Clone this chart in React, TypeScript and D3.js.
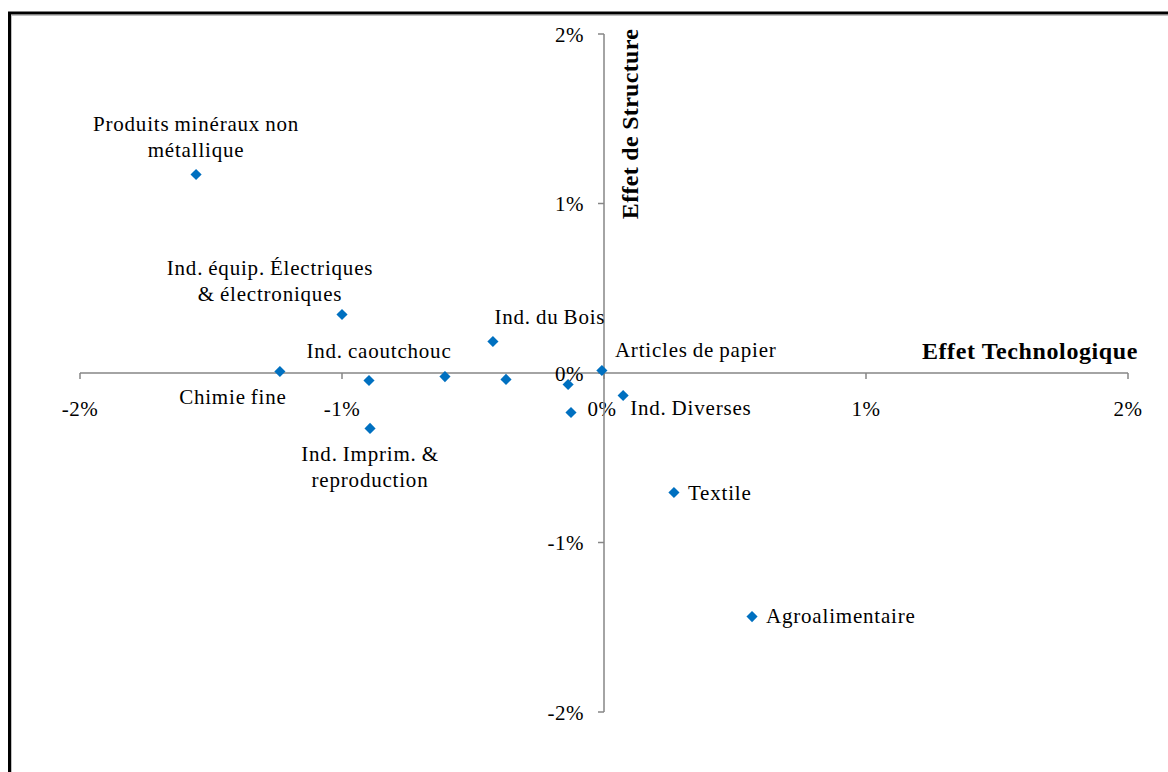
import React from "react";
import * as d3 from "d3";

// Data (values in %)
const sectors = [
  "Produits minéraux non métallique",
  "Ind. équip. Électriques & électroniques",
  "Chimie fine",
  "Ind. caoutchouc",
  "Secteur 5",
  "Ind. du Bois",
  "Secteur 7",
  "Ind. Imprim. & reproduction",
  "Secteur 9",
  "Secteur 10",
  "Articles de papier",
  "Ind. Diverses",
  "Textile",
  "Agroalimentaire",
];
const effetTechnologique = [
  -1.557, -1.0, -1.237, -0.897, -0.607, -0.424, -0.374, -0.893, -0.137, -0.126,
  -0.008, 0.073, 0.267, 0.565,
];
const effetStructure = [
  1.171, 0.345, 0.009, -0.044, -0.021, 0.186, -0.038, -0.327, -0.068, -0.233,
  0.015, -0.133, -0.705, -1.437,
];
const labelLines: string[][] = [
  ["Produits minéraux non", "métallique"],
  ["Ind. équip. Électriques", "& électroniques"],
  ["Chimie fine"],
  ["Ind. caoutchouc"],
  [],
  ["Ind. du Bois"],
  [],
  ["Ind. Imprim. &", "reproduction"],
  [],
  [],
  ["Articles de papier"],
  ["Ind. Diverses"],
  ["Textile"],
  ["Agroalimentaire"],
];
const xTicks = [-2, -1, 0, 1, 2];
const yTicks = [-2, -1, 0, 1, 2];

// Label placement (layout only)
const labelLayout: { dx: number; dy: number; anchor: string }[] = [
  { dx: 0, dy: -44, anchor: "middle" },
  { dx: -72, dy: -40, anchor: "middle" },
  { dx: -47, dy: 33, anchor: "middle" },
  { dx: 10, dy: -22, anchor: "middle" },
  { dx: 0, dy: 0, anchor: "middle" },
  { dx: 57, dy: -17, anchor: "middle" },
  { dx: 0, dy: 0, anchor: "middle" },
  { dx: 0, dy: 33, anchor: "middle" },
  { dx: 0, dy: 0, anchor: "middle" },
  { dx: 0, dy: 0, anchor: "middle" },
  { dx: 13, dy: -13, anchor: "start" },
  { dx: 7, dy: 19, anchor: "start" },
  { dx: 14, dy: 8, anchor: "start" },
  { dx: 14, dy: 6, anchor: "start" },
];

const W = 1168;
const H = 772;
const FONT = "Liberation Serif";
const AXIS = "#868686";
const BLUE = "#0070C0";

const txt: React.CSSProperties = { fontFamily: FONT, fontSize: 21, letterSpacing: 0.8, wordSpacing: -1 };
const tick: React.CSSProperties = { fontFamily: FONT, fontSize: 21, letterSpacing: 0.5 };
const title: React.CSSProperties = { fontFamily: FONT, fontSize: 24, fontWeight: "bold", letterSpacing: 0.6 };

export default function App() {
  const x = d3.scaleLinear().domain([-2, 2]).range([80, 1128]);
  const y = d3.scaleLinear().domain([-2, 2]).range([712, 34]);
  const x0 = x(0);
  const y0 = y(0);
  const diamond = d3.symbol().type(d3.symbolSquare).size(62)();
  const fmt = (v: number) => `${v}%`;

  return (
    <svg width={W} height={H} style={{ position: "absolute", left: 0, top: 0, background: "#fff" }}>
      <rect x={0} y={0} width={W} height={H} fill="#fff" />
      {/* frame */}
      <rect x={9.5} y={13} width={1300} height={900} fill="none" stroke="#000" strokeWidth={3} />
      <rect x={11.5} y={15.5} width={1300} height={900} fill="none" stroke="#c0c0c0" strokeWidth={1} />

      {/* x axis */}
      <line x1={x(-2)} x2={x(2)} y1={y0} y2={y0} stroke={AXIS} strokeWidth={1.5} />
      {xTicks.map((t) => (
        <g key={"xt" + t}>
          <line x1={x(t)} x2={x(t)} y1={y0} y2={y0 + 6} stroke={AXIS} strokeWidth={1.5} />
          <text x={x(t) - (t === 0 ? 2 : 0)} y={y0 + 43} textAnchor="middle" style={tick} fill="#000">
            {fmt(t)}
          </text>
        </g>
      ))}

      {/* y axis */}
      <line x1={x0} x2={x0} y1={y(2)} y2={y(-2)} stroke={AXIS} strokeWidth={1.5} />
      {yTicks.map((t) => (
        <g key={"yt" + t}>
          <line x1={x0 - 6} x2={x0} y1={y(t)} y2={y(t)} stroke={AXIS} strokeWidth={1.5} />
          <text x={x0 - 20} y={y(t) + 7.5} textAnchor="end" style={tick} fill="#000">
            {fmt(t)}
          </text>
        </g>
      ))}

      {/* axis titles */}
      <text
        transform={`translate(${x0 + 34},${y(2) + 90}) rotate(-90)`}
        textAnchor="middle"
        style={{ ...title, letterSpacing: 0.3 }}
        fill="#000"
      >
        Effet de Structure
      </text>
      <text x={1138} y={y0 - 14} textAnchor="end" style={title} fill="#000">
        Effet Technologique
      </text>

      {/* points */}
      {sectors.map((s, i) => (
        <path
          key={"p" + i}
          d={diamond || ""}
          transform={`translate(${x(effetTechnologique[i])},${y(effetStructure[i])}) rotate(45)`}
          fill={BLUE}
        />
      ))}

      {/* labels */}
      {sectors.map((s, i) => {
        const lines = labelLines[i];
        if (!lines.length) return null;
        const L = labelLayout[i];
        const px = x(effetTechnologique[i]) + L.dx;
        const py = y(effetStructure[i]) + L.dy;
        return (
          <text key={"l" + i} x={px} y={py} textAnchor={L.anchor} style={txt} fill="#000">
            {lines.map((ln, j) => (
              <tspan key={j} x={px} y={py + j * 26}>
                {ln}
              </tspan>
            ))}
          </text>
        );
      })}
    </svg>
  );
}
